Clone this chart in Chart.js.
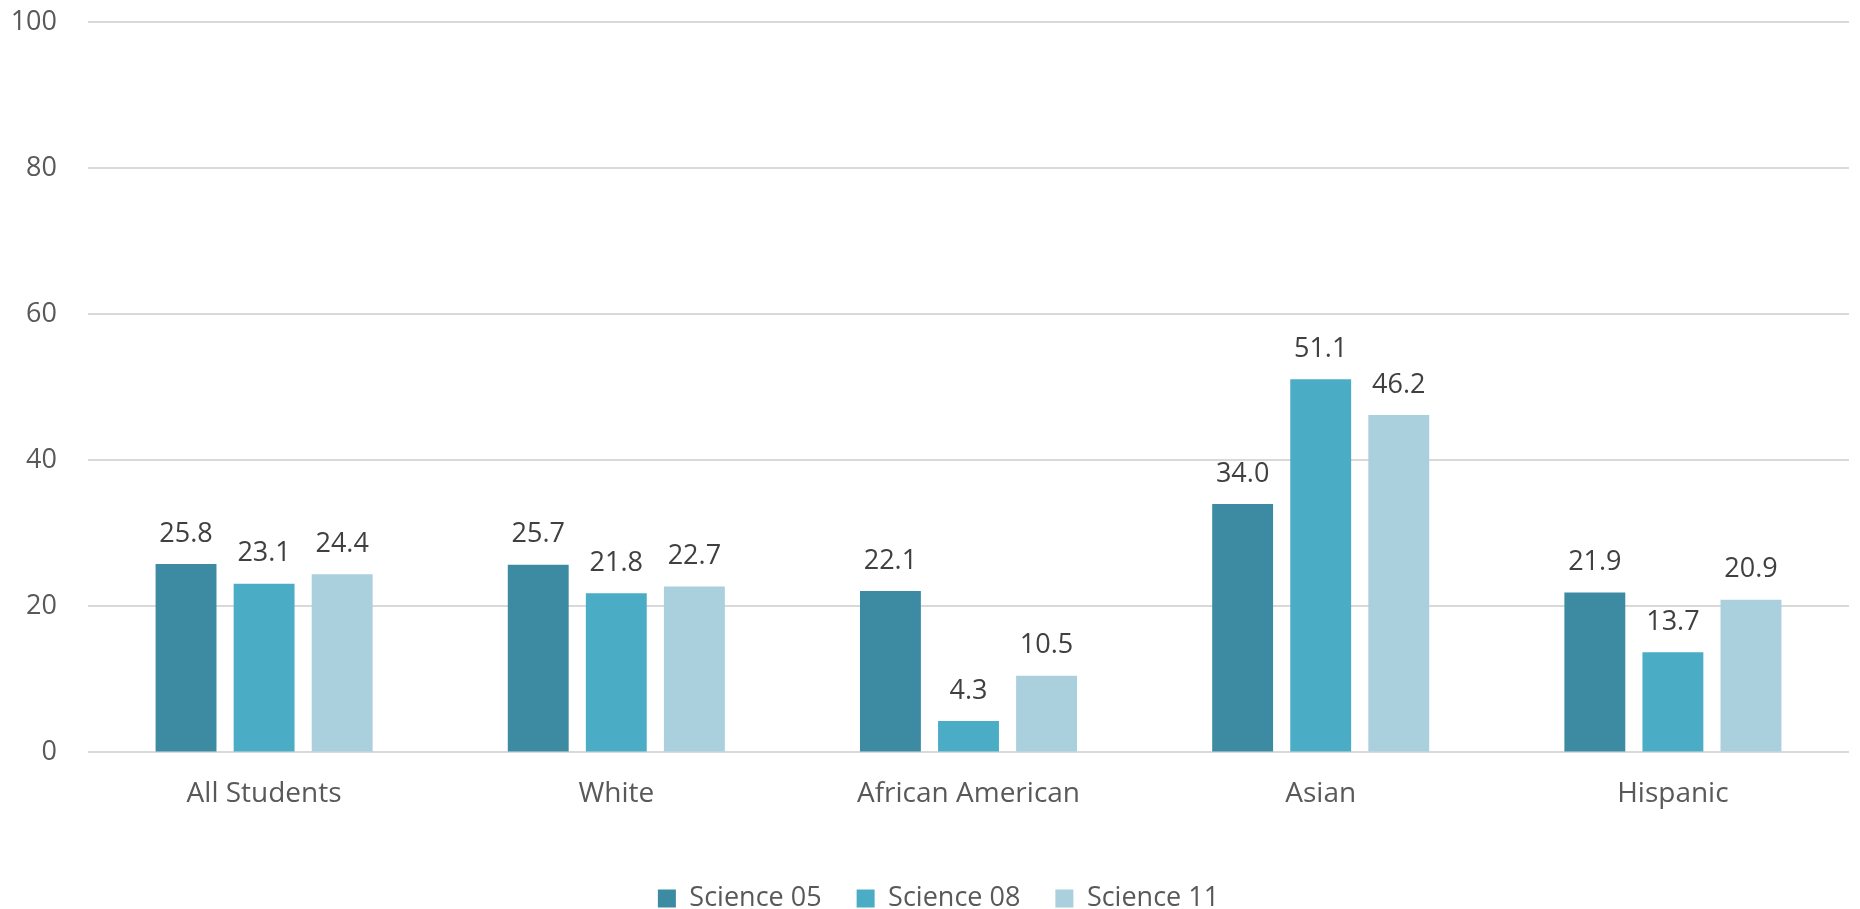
<!DOCTYPE html>
<html>
<head>
<meta charset="utf-8">
<script src="https://cdn.jsdelivr.net/npm/chart.js@4/dist/chart.umd.min.js"></script>
<style>
  html, body { margin: 0; padding: 0; background: #ffffff; }
  #wrap { width: 1860px; height: 909px; position: relative; }
</style>
</head>
<body>
<div id="wrap"><canvas id="c"></canvas></div>
<script>
const categories = ["All Students", "White", "African American", "Asian", "Hispanic"];
const seriesNames = ["Science 05", "Science 08", "Science 11"];
const science05 = [25.8, 25.7, 22.1, 34.0, 21.9];
const science08 = [23.1, 21.8, 4.3, 51.1, 13.7];
const science11 = [24.4, 22.7, 10.5, 46.2, 20.9];
const yTicks = [0, 20, 40, 60, 80, 100];

const colors = ["#3C8BA3", "#4BACC6", "#AACFDD"];
const FONT = "'Open Sans', 'DejaVu Sans', sans-serif";

const valueLabels = {
  id: "valueLabels",
  afterDatasetsDraw(chart) {
    const ctx = chart.ctx;
    ctx.save();
    ctx.font = "27px " + FONT;
    ctx.fillStyle = "#404040";
    ctx.textAlign = "center";
    ctx.textBaseline = "middle";
    chart.data.datasets.forEach((ds, i) => {
      const meta = chart.getDatasetMeta(i);
      meta.data.forEach((bar, j) => {
        ctx.fillText(ds.data[j].toFixed(1), bar.x, bar.y - 30);
      });
    });
    ctx.restore();
  }
};

const legendShift = {
  id: "legendShift",
  afterLayout(chart) {
    if (chart.legend) { chart.legend.left += 14; chart.legend.right += 14; }
  }
};

new Chart(document.getElementById("c"), {
  type: "bar",
  data: {
    labels: categories,
    datasets: [
      { label: seriesNames[0], data: science05, backgroundColor: colors[0] },
      { label: seriesNames[1], data: science08, backgroundColor: colors[1] },
      { label: seriesNames[2], data: science11, backgroundColor: colors[2] }
    ]
  },
  options: {
    responsive: true,
    maintainAspectRatio: false,
    animation: false,
    layout: { padding: { top: 22, right: 11, left: 0, bottom: -13 } },
    datasets: { bar: { categoryPercentage: 0.665, barPercentage: 0.78 } },
    plugins: {
      legend: {
        position: "bottom",
        labels: {
          font: { family: FONT, size: 27 },
          color: "#595959",
          boxWidth: 18,
          boxHeight: 18,
          padding: 35
        }
      },
      tooltip: { enabled: false }
    },
    scales: {
      x: {
        grid: { display: false, drawTicks: false },
        border: { display: false },
        afterFit(scale) { scale.height = scale.height + 14; },
        ticks: { font: { family: FONT, size: 28 }, color: "#595959", padding: 25, maxRotation: 0 }
      },
      y: {
        min: 0,
        max: 100,
        afterBuildTicks(scale) { scale.ticks = yTicks.map(v => ({ value: v })); },
        afterFit(scale) { scale.width = 88; scale.paddingTop = 0; scale.paddingBottom = 0; },
        grid: { color: "#D9D9D9", lineWidth: 2, drawTicks: false },
        border: { display: false },
        ticks: { font: { family: FONT, size: 27 }, color: "#595959", padding: 31 }
      }
    }
  },
  plugins: [valueLabels, legendShift]
});
</script>
</body>
</html>
